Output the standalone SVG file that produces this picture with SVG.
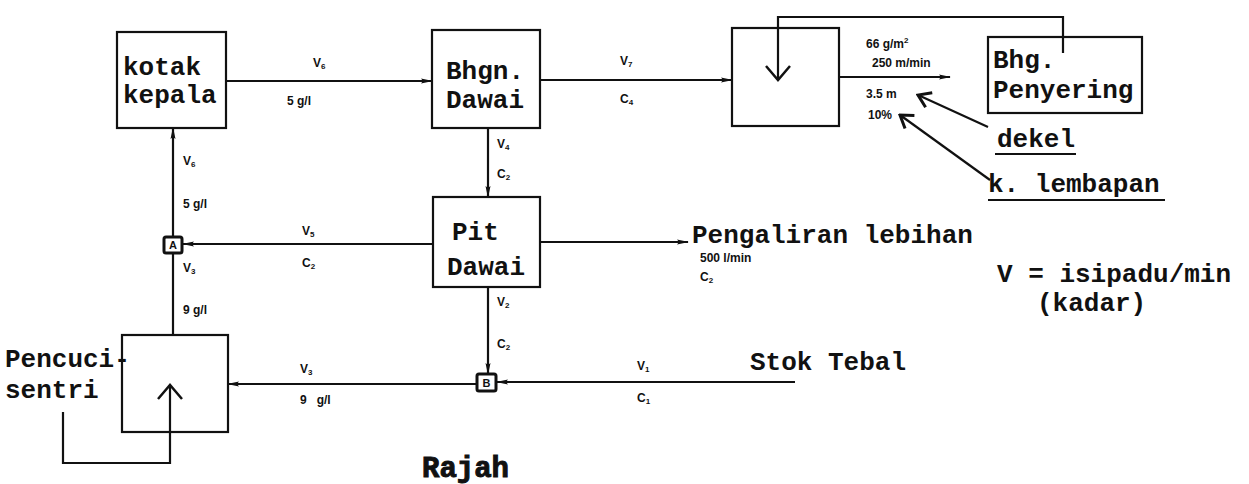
<svg xmlns="http://www.w3.org/2000/svg" width="1249" height="484" viewBox="0 0 1249 484">
<defs>
<style>
.box{fill:none;stroke:#111;stroke-width:2.2}
.ln{fill:none;stroke:#111;stroke-width:2.2}
.big{font-family:"Liberation Mono","Courier New",monospace;font-weight:bold;font-size:26px;fill:#111}
.sm{font-family:"Liberation Sans",Arial,sans-serif;font-weight:bold;font-size:12px;fill:#111}
.sub{font-size:8px}
.jl{font-family:"Liberation Sans",Arial,sans-serif;font-weight:bold;font-size:11px;fill:#111}
</style>
<marker id="ah" viewBox="0 0 12 8" refX="11" refY="4" markerWidth="12" markerHeight="8" markerUnits="userSpaceOnUse" orient="auto">
<path d="M0,1.5 L12,4 L0,6.5 L2,4 Z" fill="#111"/>
</marker>
<marker id="vh" viewBox="0 0 30 30" refX="28" refY="15" markerWidth="30" markerHeight="30" markerUnits="userSpaceOnUse" orient="auto">
<path d="M14,3 L28,15 L14,27" fill="none" stroke="#111" stroke-width="2.5"/>
</marker>
<marker id="ph" viewBox="0 0 20 20" refX="18" refY="10" markerWidth="20" markerHeight="20" markerUnits="userSpaceOnUse" orient="auto">
<path d="M6,2 L18,10 L6,18" fill="none" stroke="#111" stroke-width="3"/>
</marker>
</defs>
<rect width="1249" height="484" fill="#fff"/>

<g id="connectors">
<line class="ln" x1="226" y1="81" x2="432" y2="81" marker-end="url(#ah)"/>
<line class="ln" x1="540" y1="80" x2="732" y2="80" marker-end="url(#ah)"/>
<line class="ln" x1="839" y1="77" x2="950" y2="77" marker-end="url(#ah)"/>
<path class="ln" d="M1063,53 L1063,17 L778,17 L778,80" marker-end="url(#vh)"/>
<line class="ln" x1="488" y1="128" x2="488" y2="197" marker-end="url(#ah)"/>
<line class="ln" x1="540" y1="242" x2="688" y2="242" marker-end="url(#ah)"/>
<line class="ln" x1="433" y1="244" x2="183" y2="244" marker-end="url(#ah)"/>
<line class="ln" x1="173" y1="237" x2="173" y2="128" marker-end="url(#ah)"/>
<line class="ln" x1="173" y1="335" x2="173" y2="253"/>
<line class="ln" x1="488" y1="287" x2="488" y2="374" marker-end="url(#ah)"/>
<line class="ln" x1="795" y1="382" x2="497" y2="382" marker-end="url(#ah)"/>
<line class="ln" x1="477" y1="384" x2="228" y2="384" marker-end="url(#ah)"/>
<path class="ln" d="M63,412 L63,463 L170,463 L170,385" marker-end="url(#vh)"/>
<line class="ln" x1="988" y1="127" x2="918" y2="95" stroke-width="3" marker-end="url(#ph)"/>
<line class="ln" x1="990" y1="180" x2="900" y2="115" stroke-width="3" marker-end="url(#ph)"/>
</g>

<g id="kotak-kepala">
<rect class="box" x="117" y="32" width="109" height="96"/>
<text class="big" x="123" y="75">kotak</text>
<text class="big" x="123" y="103">kepala</text>
</g>

<g id="bhgn-dawai">
<rect class="box" x="432" y="30" width="108" height="98"/>
<text class="big" x="446" y="79">Bhgn.</text>
<text class="big" x="446" y="108">Dawai</text>
</g>

<g id="former">
<rect class="box" x="732" y="28" width="107" height="98"/>
</g>

<g id="bhg-penyering">
<rect class="box" x="988" y="37" width="154" height="76"/>
<text class="big" x="993" y="68">Bhg.</text>
<text class="big" x="993" y="98">Penyering</text>
</g>

<g id="pit-dawai">
<rect class="box" x="433" y="197" width="107" height="90"/>
<text class="big" x="452" y="240">Pit</text>
<text class="big" x="447" y="275">Dawai</text>
</g>

<g id="pencuci-sentri">
<rect class="box" x="122" y="335" width="106" height="97"/>
<text class="big" x="5" y="367">Pencuci-</text>
<text class="big" x="5" y="398">sentri</text>
</g>

<g id="junction-a">
<rect x="164" y="237" width="18" height="16" rx="2" fill="#fff" stroke="#111" stroke-width="3"/>
<text class="jl" x="173" y="249" text-anchor="middle">A</text>
</g>

<g id="junction-b">
<rect x="477" y="374" width="19" height="17" rx="2" fill="#fff" stroke="#111" stroke-width="3"/>
<text class="jl" x="486.5" y="387" text-anchor="middle">B</text>
</g>

<g id="labels">
<text class="sm" x="313" y="67">V<tspan class="sub" dy="2">6</tspan></text>
<text class="sm" x="287" y="105">5 g/l</text>
<text class="sm" x="620" y="65">V<tspan class="sub" dy="2">7</tspan></text>
<text class="sm" x="620" y="103">C<tspan class="sub" dy="2">4</tspan></text>
<text class="sm" x="497" y="148">V<tspan class="sub" dy="2">4</tspan></text>
<text class="sm" x="497" y="178">C<tspan class="sub" dy="2">2</tspan></text>
<text class="sm" x="183" y="165">V<tspan class="sub" dy="2">6</tspan></text>
<text class="sm" x="183" y="208">5 g/l</text>
<text class="sm" x="302" y="235">V<tspan class="sub" dy="2">5</tspan></text>
<text class="sm" x="302" y="267">C<tspan class="sub" dy="2">2</tspan></text>
<text class="sm" x="183" y="272">V<tspan class="sub" dy="2">3</tspan></text>
<text class="sm" x="183" y="314">9 g/l</text>
<text class="sm" x="497" y="306">V<tspan class="sub" dy="2">2</tspan></text>
<text class="sm" x="497" y="348">C<tspan class="sub" dy="2">2</tspan></text>
<text class="sm" x="637" y="370">V<tspan class="sub" dy="2">1</tspan></text>
<text class="sm" x="637" y="402">C<tspan class="sub" dy="2">1</tspan></text>
<text class="sm" x="300" y="373">V<tspan class="sub" dy="2">3</tspan></text>
<text class="sm" x="300" y="404" xml:space="preserve">9   g/l</text>
<text class="sm" x="700" y="262">500 l/min</text>
<text class="sm" x="700" y="281">C<tspan class="sub" dy="2">2</tspan></text>
<text class="sm" x="866" y="48">66 g/m<tspan class="sub" dy="-5">2</tspan></text>
<text class="sm" x="872" y="67">250 m/min</text>
<text class="sm" x="866" y="98">3.5 m</text>
<text class="sm" x="868" y="119">10%</text>
<text class="big" x="692" y="243">Pengaliran lebihan</text>
<text class="big" x="997" y="147">dekel</text>
<line class="ln" x1="995" y1="154" x2="1076" y2="154"/>
<text class="big" x="988" y="192">k. lembapan</text>
<line class="ln" x1="988" y1="200" x2="1165" y2="200"/>
<text class="big" x="997" y="282">V = isipadu/min</text>
<text class="big" x="1037" y="311">(kadar)</text>
<text class="big" x="750" y="370">Stok Tebal</text>
<text class="big" x="422" y="477" style="font-size:29px;stroke:#111;stroke-width:1">Rajah</text>
</g>
</svg>
